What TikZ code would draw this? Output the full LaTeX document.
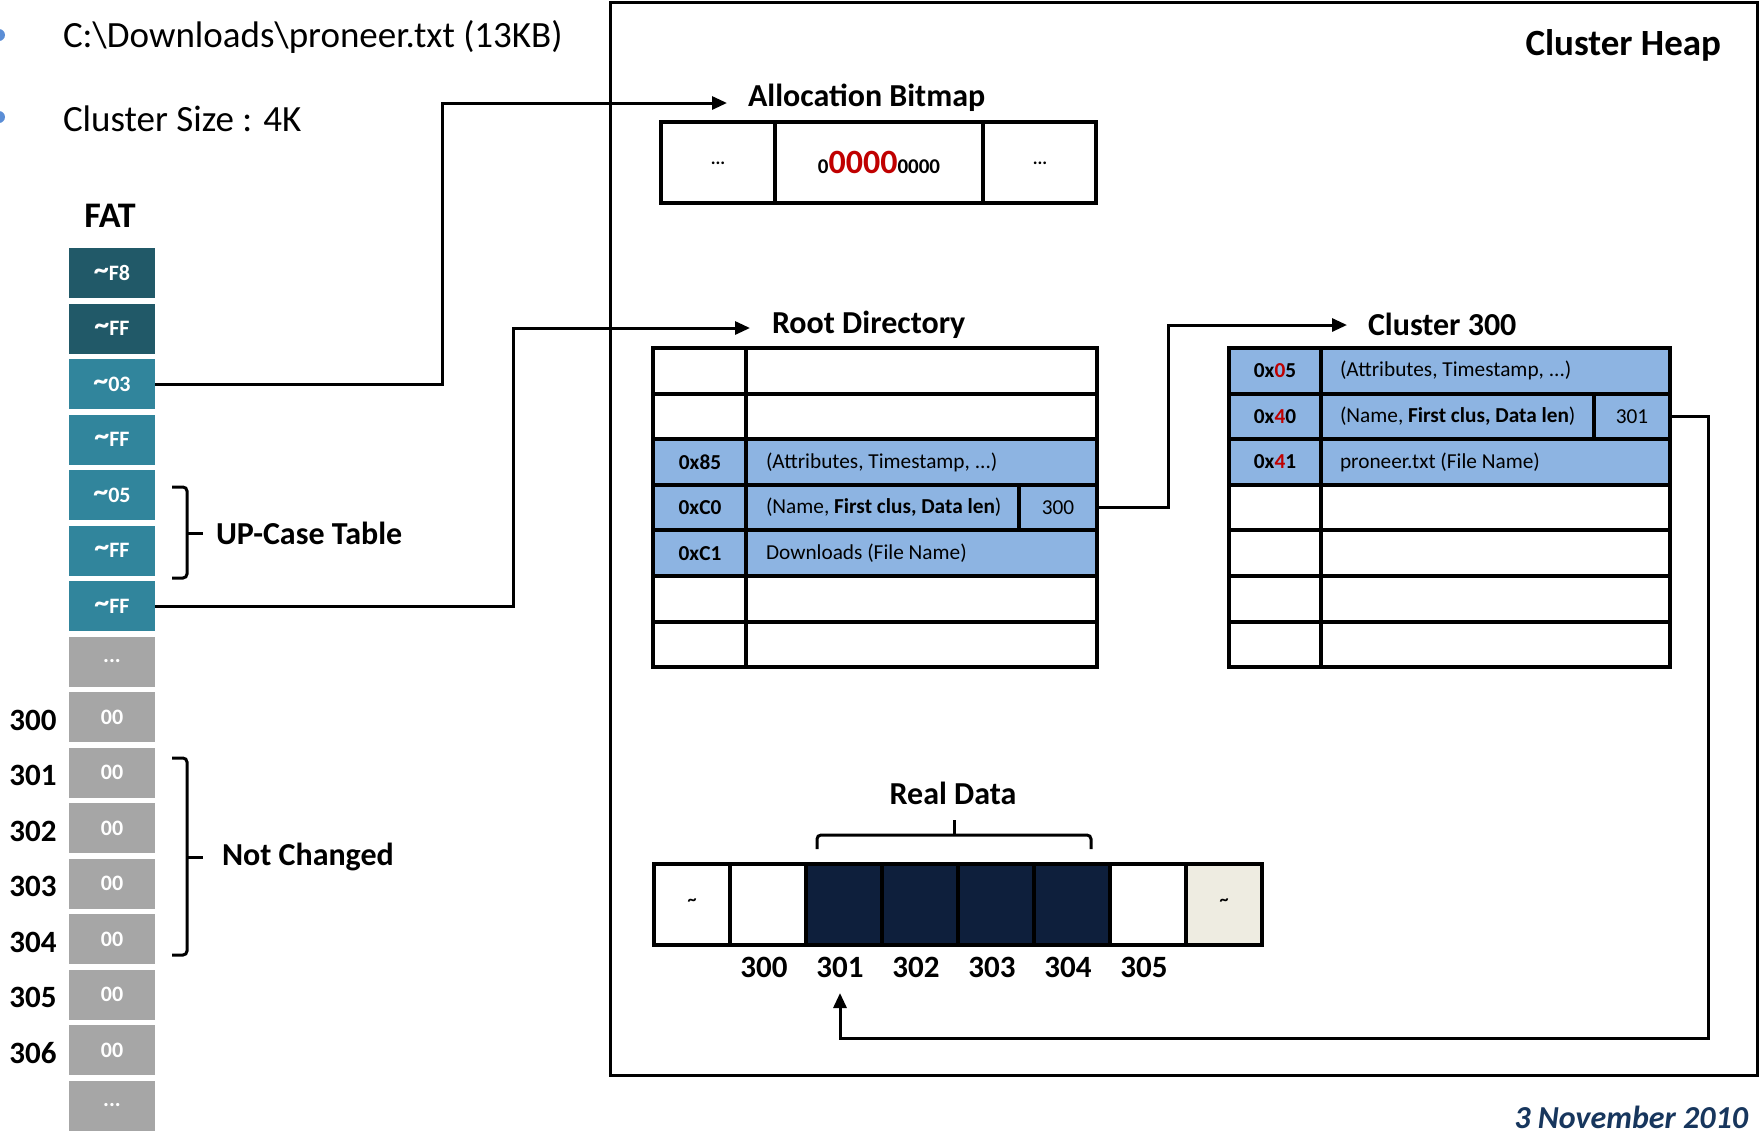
\documentclass[tikz,border=0pt]{standalone}
\usepackage{fontspec}
\setmainfont{Carlito}
\usetikzlibrary{arrows.meta,calc}
\definecolor{fatdark}{HTML}{215968}
\definecolor{fatmid}{HTML}{31859C}
\definecolor{fatgray}{HTML}{A6A6A6}
\definecolor{rowblue}{HTML}{8DB4E2}
\definecolor{navycell}{HTML}{0E1F3C}
\definecolor{beigecell}{HTML}{EEECE1}
\definecolor{redhl}{HTML}{C00000}
\definecolor{datecol}{HTML}{17365D}
\definecolor{bulletblue}{HTML}{5B8ED6}
\newcommand{\fattilde}{{\fontsize{30}{30}\selectfont\raisebox{1pt}{\textasciitilde}}}
\tikzset{
  every node/.style={inner sep=0pt, outer sep=0pt},
  fatcell/.style={minimum width=86pt, minimum height=50pt, text=white, font=\fontsize{22}{26}\selectfont\bfseries},
  rowlbl/.style={font=\fontsize{31}{36}\selectfont\bfseries},
  title/.style={font=\fontsize{32}{37}\selectfont\bfseries},
  big/.style={font=\fontsize{37}{42}\selectfont},
  tbl/.style={line width=4pt},
  cell/.style={font=\fontsize{21.3}{25}\selectfont},
  cellb/.style={font=\fontsize{21.3}{25}\selectfont\bfseries},
  conn/.style={line width=3pt},
  arr/.style={line width=3pt, -{Triangle[length=15pt,width=13pt]}},
  bracestyle/.style={line width=3pt, rounded corners=4pt},
}
\begin{document}
\begin{tikzpicture}[x=1pt,y=-1pt]
\useasboundingbox (0,0) rectangle (1760,1133);
% bullets and header text
\fill[bulletblue] (-1,35) circle (6);
\fill[bulletblue] (-1,117) circle (6);
\node[big, anchor=west] (path) at (63,37) {C:\textbackslash Downloads\textbackslash proneer.txt (13KB)};
\node[big, anchor=west] (csize) at (63,119) {Cluster Size : 4K};
\node[font=\fontsize{36}{40}\selectfont\bfseries] (fat) at (110,216) {FAT};
% FAT cells
\foreach \i/\t/\c in {0/{\fattilde F8}/fatdark,1/{\fattilde FF}/fatdark,2/{\fattilde 03}/fatmid,3/{\fattilde FF}/fatmid,4/{\fattilde 05}/fatmid,5/{\fattilde FF}/fatmid,6/{\fattilde FF}/fatmid,7/{...}/fatgray,8/00/fatgray,9/00/fatgray,10/00/fatgray,11/00/fatgray,12/00/fatgray,13/00/fatgray,14/00/fatgray,15/{...}/fatgray}
  \node[fatcell, fill=\c] (f\i) at (112,273+55.5*\i) {\t};
% FAT row numbers
\foreach \i/\n in {8/300,9/301,10/302,11/303,12/304,13/305,14/306}
  \node[rowlbl] (n\n) at (33,276+55.5*\i) {\n};
% braces
\draw[bracestyle] (172,487) -- (187,487) -- (187,578) -- (172,578);
\draw[line width=3pt] (187,533) -- (203,533);
\node[title, anchor=west] (upcase) at (216,533) {UP-Case Table};
\draw[bracestyle] (172,758) -- (187,758) -- (187,955) -- (172,955);
\draw[line width=3pt] (187,857) -- (203,857);
\node[title, anchor=west] (notch) at (222,857) {Not Changed};
% Cluster heap box
\draw[line width=3pt] (610,2) rectangle (1757,1075);
\node[font=\fontsize{37}{42}\selectfont\bfseries, anchor=east] (heap) at (1721,45) {Cluster Heap};
% Allocation bitmap
\node[title, anchor=west] (bitlabel) at (748,98) {Allocation Bitmap};
\draw[tbl] (661,122) rectangle (1096,203);
\draw[tbl] (775,122) -- (775,203) (983,122) -- (983,203);
\node[cellb, font=\fontsize{18}{22}\selectfont\bfseries] (bitl) at (718,163) {...};
\node[cellb, font=\fontsize{18}{22}\selectfont\bfseries] (bitr) at (1040,163) {...};
\node (bitm) at (879,162) {\bfseries\fontsize{21}{25}\selectfont 0{\fontsize{34}{38}\selectfont\color{redhl}0000}0000};
% Root directory
\node[title, anchor=west] (rootlabel) at (772,325) {Root Directory};
\fill[rowblue] (653,439.2) rectangle (1097,576);
\draw[tbl] (653,348) rectangle (1097,667.2);
\draw[tbl] (746,348) -- (746,667.2);
\foreach \k in {1,...,6} \draw[tbl] (653,348+45.6*\k) -- (1097,348+45.6*\k);
\draw[tbl] (1019,484.8) -- (1019,530.4);
\node[cellb] (r85) at (700,462) {0x85};
\node[cell, anchor=west] (r85t) at (766,462) {(Attributes, Timestamp, ...)};
\node[cellb] (rc0) at (700,507.6) {0xC0};
\node[cell, anchor=west] (rc0t) at (766,507.6) {(Name, \textbf{First clus, Data len})};
\node[cell, minimum width=78pt, minimum height=45pt] (r300) at (1058,507.6) {300};
\node[cellb] (rc1) at (700,553.2) {0xC1};
\node[cell, anchor=west] (rc1t) at (766,553.2) {Downloads (File Name)};
% Cluster 300
\node[title, anchor=west] (c300label) at (1368,324) {Cluster 300};
\fill[rowblue] (1229,348) rectangle (1670,484.8);
\draw[tbl] (1229,348) rectangle (1670,667.2);
\draw[tbl] (1321,348) -- (1321,667.2);
\foreach \k in {1,...,6} \draw[tbl] (1229,348+45.6*\k) -- (1670,348+45.6*\k);
\draw[tbl] (1594,393.6) -- (1594,439.2);
\node[cellb] (c05) at (1275,370.8) {0x\textcolor{redhl}{0}5};
\node[cell, anchor=west] (c05t) at (1340,370.8) {(Attributes, Timestamp, ...)};
\node[cellb] (c40) at (1275,416.4) {0x\textcolor{redhl}{4}0};
\node[cell, anchor=west] (c40t) at (1340,416.4) {(Name, \textbf{First clus, Data len})};
\node[cell, minimum width=76pt, minimum height=45pt] (c301) at (1632,416.4) {301};
\node[cellb] (c41) at (1275,462) {0x\textcolor{redhl}{4}1};
\node[cell, anchor=west] (c41t) at (1340,462) {proneer.txt (File Name)};
% Real data row
\node[title] (reallabel) at (953,793) {Real Data};
\draw[bracestyle] (817,849) -- (817,835) -- (1091,835) -- (1091,849);
\draw[line width=3pt] (954,836) -- (954,820);
\fill[navycell] (806,864) rectangle (1110,945);
\fill[beigecell] (1186,864) rectangle (1262,945);
\draw[tbl] (654,864) rectangle (1262,945);
\foreach \k in {1,...,7} \draw[tbl] (654+76*\k,864) -- (654+76*\k,945);
\node[font=\fontsize{18}{20}\selectfont\bfseries] (dl) at (692,902) {\textasciitilde};
\node[font=\fontsize{18}{20}\selectfont\bfseries] (dr) at (1224,902) {\textasciitilde};
\foreach \k/\n in {1/300,2/301,3/302,4/303,5/304,6/305}
  \node[rowlbl] (d\n) at (654+76*\k+34,967) {\n};
% connectors
\coordinate (bitcorner) at (442,103);
\coordinate (bittip) at (727,103);
\draw[arr] (f2.east) -| (bitcorner) -- (bittip);
\coordinate (rootcorner) at (513,328);
\coordinate (roottip) at (750,328);
\draw[arr] (f6.east) -| (rootcorner) -- (roottip);
\coordinate (clcorner) at (1168,325);
\coordinate (cltip) at (1347,325);
\draw[arr] (r300.east) -| (clcorner) -- (cltip);
\coordinate (dcorner) at (1708,1038);
\coordinate (dtip) at (840,993);
\draw[arr] (c301.east) -| (dcorner) -| (dtip);
% date
\node[font=\fontsize{32}{37}\selectfont\bfseries\itshape, text=datecol, anchor=east] (date) at (1748,1117) {3 November 2010};
\end{tikzpicture}
\end{document}
